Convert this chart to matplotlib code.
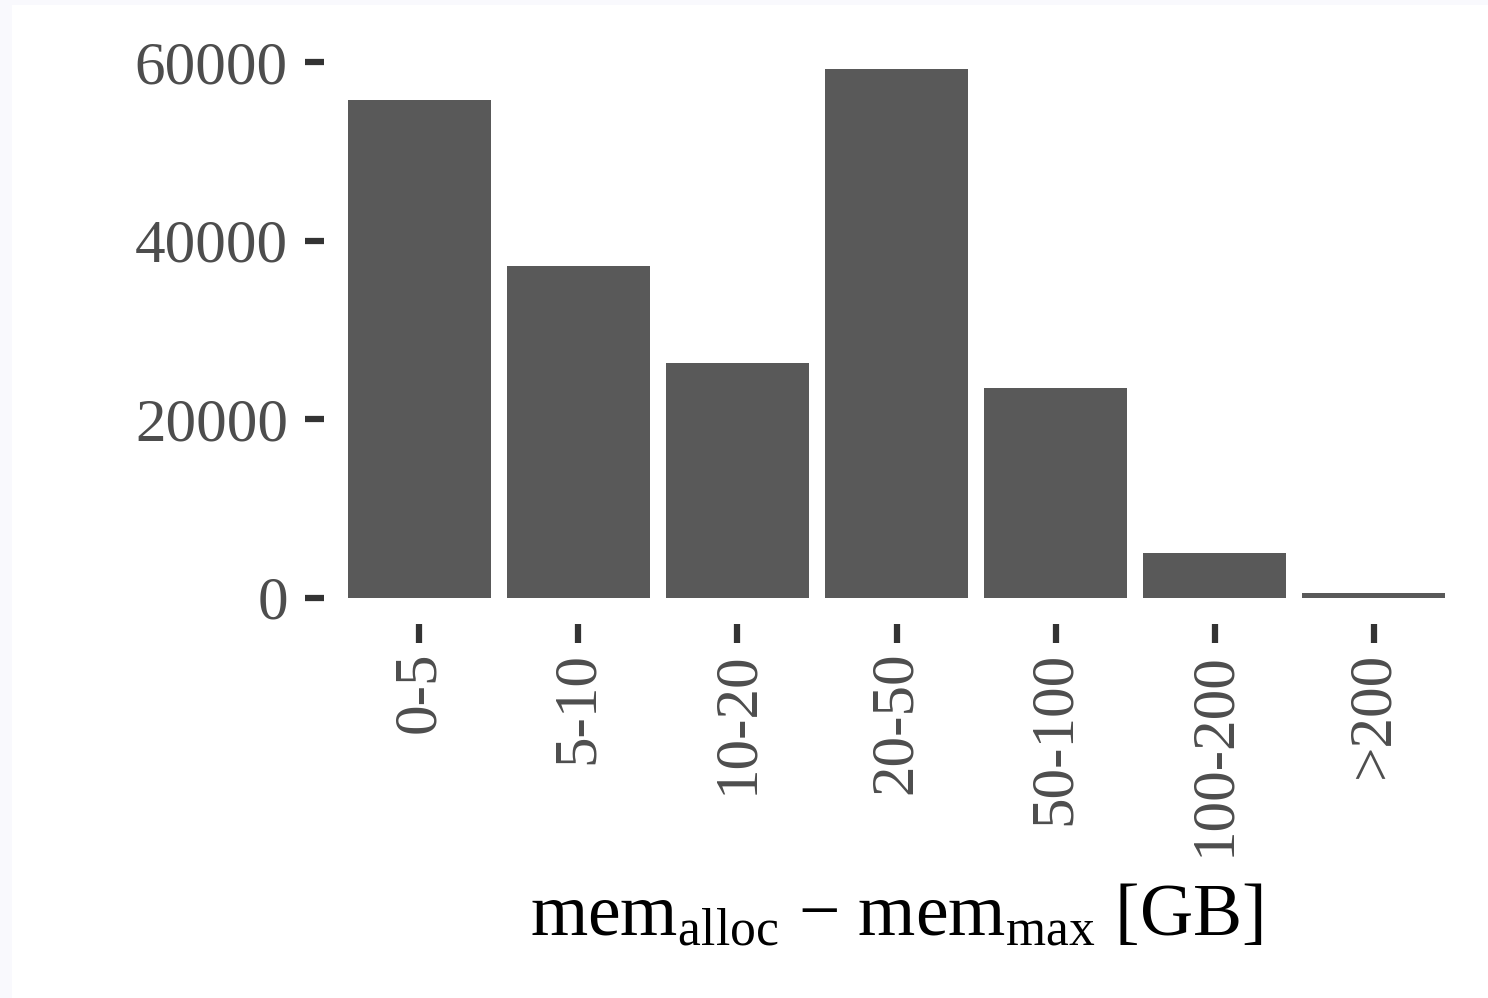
import matplotlib
matplotlib.use("Agg")
import matplotlib.pyplot as plt
from matplotlib.patches import Rectangle

categories = ['0-5', '5-10', '10-20', '20-50', '50-100', '100-200', '>200']
counts = [55800, 37200, 26250, 59200, 23450, 5000, 500]
yticks = [0, 20000, 40000, 60000]

plt.rcParams['font.family'] = ['Liberation Serif', 'DejaVu Serif']
plt.rcParams['mathtext.fontset'] = 'custom'
plt.rcParams['mathtext.rm'] = 'Liberation Serif'
plt.rcParams['mathtext.it'] = 'Liberation Serif:italic'

fig = plt.figure(figsize=(14.88, 9.98), dpi=100, facecolor='#f9f9fd')
# white panel (screenshot has a faint frame at top/left)
fig.patches.append(Rectangle((12/1488, 0), 1, 1 - 5/998, transform=fig.transFigure,
                             facecolor='white', edgecolor='none', zorder=-10))

ax = fig.add_axes([324/1488, 1 - 624/998, 1145/1488, 581/998])
ax.set_facecolor('none')

x = range(len(categories))
ax.bar(x, counts, width=0.9, color='#595959', edgecolor='none')

ymax = max(counts)
ax.set_ylim(-0.05*ymax, 1.05*ymax)
ax.set_xlim(-0.6, len(categories) - 0.4)

ax.set_xticks(list(x))
ax.set_xticklabels(categories, rotation=90, ha='center', va='top')
ax.set_yticks(yticks)
ax.set_yticklabels([str(v) for v in yticks])

ax.tick_params(axis='both', length=14, width=4.5, color='#333333',
               labelcolor='#4d4d4d', labelsize=44)
ax.tick_params(axis='y', pad=12)
ax.tick_params(axis='x', pad=6)
for s in ax.spines.values():
    s.set_visible(False)

ax.set_xlabel('mem$_{\\mathrm{alloc}}$ \u2212 mem$_{\\mathrm{max}}$ [GB]',
              fontsize=53, color='black', labelpad=20)

fig.savefig('out.png', dpi=100, facecolor=fig.get_facecolor())
